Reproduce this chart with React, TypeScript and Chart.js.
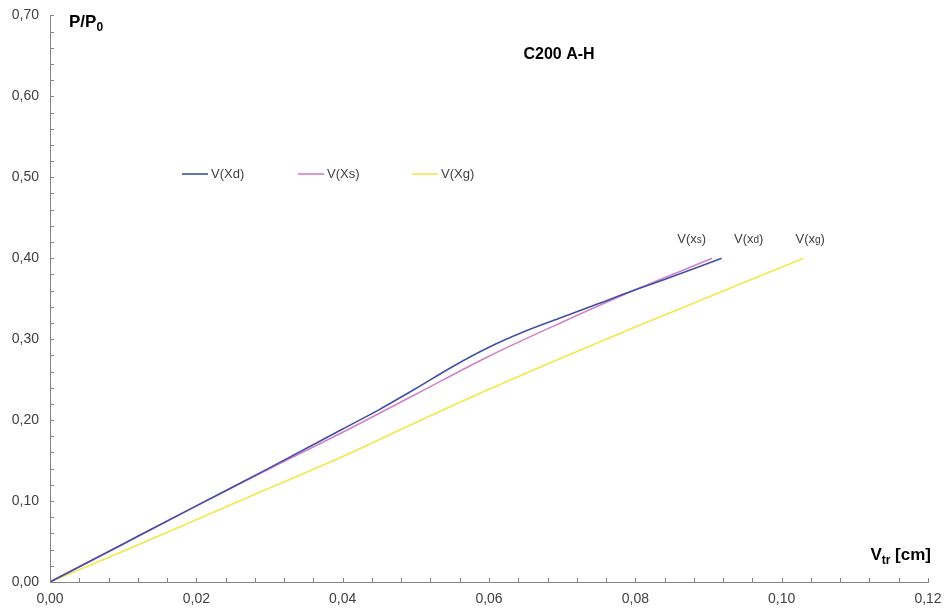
import React, { useEffect, useRef } from "react";
import { Chart, registerables } from "chart.js";

Chart.register(...registerables);

const FONT = "'Liberation Sans', Arial, sans-serif";

// Displacement V [cm] and load ratio P/P0 for each series
const vXd = [0, 0.01, 0.02, 0.03, 0.04, 0.045, 0.05, 0.055, 0.06, 0.065, 0.07, 0.075, 0.08, 0.085, 0.0918];
const pXd = [0, 0.047, 0.094, 0.141, 0.189, 0.213, 0.239, 0.266, 0.29, 0.31, 0.327, 0.344, 0.361, 0.377, 0.4];

const vXs = [0, 0.01, 0.02, 0.03, 0.04, 0.05, 0.06, 0.07, 0.08, 0.0905];
const pXs = [0, 0.047, 0.094, 0.14, 0.185, 0.232, 0.279, 0.321, 0.361, 0.4];

const vXg = [0, 0.01, 0.02, 0.03, 0.04, 0.05, 0.06, 0.07, 0.08, 0.09, 0.103];
const pXg = [0, 0.038, 0.077, 0.116, 0.155, 0.197, 0.238, 0.277, 0.315, 0.352, 0.4];

const seriesNames = ["V(Xd)", "V(Xs)", "V(Xg)"];
const seriesColors = ["#4450A6", "#D282C4", "#F2E84A"];

// Curve-end labels: main text, smaller letter, anchor in data units
const endLabelMain = ["V(x", "V(x", "V(x"];
const endLabelSub = ["s", "d", "g"];
const endLabelX = [0.0877, 0.0955, 0.1039];
const endLabelY = [0.425, 0.425, 0.425];

const xMax = 0.12;
const yMax = 0.7;

const AXIS_COLOR = "#868686";
const TICK_TEXT = "#404040";

const toPoints = (xs: number[], ys: number[]) => xs.map((x, i) => ({ x, y: ys[i] }));

const fmt = (v: number) => v.toFixed(2).replace(".", ",");

const isMultiple = (v: number, step: number) => Math.abs(v / step - Math.round(v / step)) < 1e-6;

// Tick marks pointing into the plot area
const innerTicksPlugin = {
  id: "innerTicks",
  afterDatasetsDraw(chart: any) {
    const ctx = chart.ctx as CanvasRenderingContext2D;
    const xs = chart.scales.x;
    const ys = chart.scales.y;
    const { left, bottom } = chart.chartArea;
    ctx.save();
    ctx.strokeStyle = AXIS_COLOR;
    ctx.lineWidth = 1;
    ctx.beginPath();
    xs.ticks.forEach((t: any) => {
      const px = Math.round(xs.getPixelForValue(t.value)) + 0.5;
      ctx.moveTo(px, bottom);
      ctx.lineTo(px, bottom - 4);
    });
    ys.ticks.forEach((t: any) => {
      const py = Math.round(ys.getPixelForValue(t.value)) + 0.5;
      ctx.moveTo(left, py);
      ctx.lineTo(left + 4, py);
    });
    ctx.stroke();
    ctx.restore();
  },
};

const textPlugin = {
  id: "chartTexts",
  afterDraw(chart: any) {
    const ctx = chart.ctx as CanvasRenderingContext2D;
    const xs = chart.scales.x;
    const ys = chart.scales.y;
    ctx.save();
    ctx.fillStyle = "#000000";
    ctx.textBaseline = "alphabetic";

    // Y axis title P/P0
    ctx.textAlign = "left";
    ctx.font = `bold 17px ${FONT}`;
    ctx.fillText("P/P", 69, 27);
    const wPP = ctx.measureText("P/P").width;
    ctx.font = `bold 12px ${FONT}`;
    ctx.fillText("0", 69 + wPP, 31);

    // Chart title
    ctx.textAlign = "center";
    ctx.font = `bold 16px ${FONT}`;
    ctx.fillText("C200 A-H", 559, 59);

    // X axis title V_tr [cm]
    ctx.textAlign = "left";
    ctx.font = `bold 17px ${FONT}`;
    const wV = ctx.measureText("V").width;
    const wCm = ctx.measureText(" [cm]").width;
    ctx.font = `bold 12px ${FONT}`;
    const wTr = ctx.measureText("tr").width;
    const startX = 931 - (wV + wTr + wCm);
    ctx.font = `bold 17px ${FONT}`;
    ctx.fillText("V", startX, 560);
    ctx.font = `bold 12px ${FONT}`;
    ctx.fillText("tr", startX + wV, 564);
    ctx.font = `bold 17px ${FONT}`;
    ctx.fillText(" [cm]", startX + wV + wTr, 560);

    // Legend inside the plot
    const legendX = [182, 298, 412];
    const legendY = 174;
    ctx.font = `13px ${FONT}`;
    ctx.textBaseline = "middle";
    ctx.fillStyle = "#404040";
    seriesNames.forEach((name, i) => {
      ctx.strokeStyle = seriesColors[i];
      ctx.lineWidth = 1.6;
      ctx.beginPath();
      ctx.moveTo(legendX[i], legendY);
      ctx.lineTo(legendX[i] + 26, legendY);
      ctx.stroke();
      ctx.fillText(name, legendX[i] + 29, legendY);
    });

    // Curve-end labels
    ctx.textBaseline = "alphabetic";
    ctx.fillStyle = "#404040";
    endLabelMain.forEach((main, i) => {
      const px = xs.getPixelForValue(endLabelX[i]);
      const py = ys.getPixelForValue(endLabelY[i]);
      ctx.font = `13px ${FONT}`;
      const w1 = ctx.measureText(main).width;
      const w3 = ctx.measureText(")").width;
      ctx.font = `10px ${FONT}`;
      const w2 = ctx.measureText(endLabelSub[i]).width;
      let x = px - (w1 + w2 + w3) / 2;
      ctx.font = `13px ${FONT}`;
      ctx.fillText(main, x, py + 5);
      x += w1;
      ctx.font = `10px ${FONT}`;
      ctx.fillText(endLabelSub[i], x, py + 5);
      x += w2;
      ctx.font = `13px ${FONT}`;
      ctx.fillText(")", x, py + 5);
    });
    ctx.restore();
  },
};

export default function App() {
  const canvasRef = useRef<HTMLCanvasElement | null>(null);

  useEffect(() => {
    document.body.style.margin = "0";
    const canvas = canvasRef.current;
    if (!canvas) return;

    const makeDataset = (label: string, color: string, pts: { x: number; y: number }[]) => ({
      label,
      data: pts,
      borderColor: color,
      backgroundColor: color,
      borderWidth: 1.6,
      pointRadius: 0,
      fill: false,
      cubicInterpolationMode: "monotone" as const,
    });

    // Outer tick marks are kept for spacing but made invisible; visible ones point inward
    const hiddenOuterTicks = {
      display: true,
      drawOnChartArea: false,
      drawTicks: true,
      tickLength: 4,
      tickColor: "rgba(0,0,0,0)",
    };

    const chart = new Chart(canvas, {
      type: "line",
      data: {
        datasets: [
          makeDataset(seriesNames[0], seriesColors[0], toPoints(vXd, pXd)),
          makeDataset(seriesNames[1], seriesColors[1], toPoints(vXs, pXs)),
          makeDataset(seriesNames[2], seriesColors[2], toPoints(vXg, pXg)),
        ],
      },
      options: {
        animation: false,
        responsive: false,
        maintainAspectRatio: false,
        layout: { padding: { left: 0, right: 22, top: 14, bottom: 0 } },
        plugins: {
          legend: { display: false },
          tooltip: { enabled: false },
          title: { display: false },
        },
        scales: {
          x: {
            type: "linear",
            min: 0,
            max: xMax,
            border: { display: true, color: AXIS_COLOR, width: 1 },
            grid: hiddenOuterTicks,
            ticks: {
              stepSize: 0.004,
              maxTicksLimit: 60,
              autoSkip: false,
              maxRotation: 0,
              minRotation: 0,
              padding: 5,
              color: TICK_TEXT,
              font: { family: FONT, size: 14 },
              callback: (v: any) => (isMultiple(Number(v), 0.02) ? fmt(Number(v)) : ""),
            },
            afterFit: (scale: any) => {
              scale.height = 28;
            },
          },
          y: {
            type: "linear",
            min: 0,
            max: yMax,
            border: { display: true, color: AXIS_COLOR, width: 1 },
            grid: hiddenOuterTicks,
            ticks: {
              stepSize: 0.02,
              maxTicksLimit: 60,
              autoSkip: false,
              padding: 7,
              color: TICK_TEXT,
              font: { family: FONT, size: 14 },
              callback: (v: any) => (isMultiple(Number(v), 0.1) ? fmt(Number(v)) : ""),
            },
            afterFit: (scale: any) => {
              scale.width = 50;
            },
          },
        },
      },
      plugins: [innerTicksPlugin, textPlugin],
    });

    return () => {
      chart.destroy();
    };
  }, []);

  return (
    <div style={{ width: 950, height: 610, background: "#ffffff" }}>
      <canvas ref={canvasRef} width={950} height={610} style={{ display: "block" }} />
    </div>
  );
}
